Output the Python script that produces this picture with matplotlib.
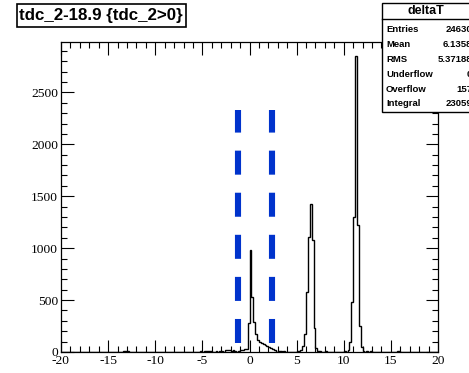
import numpy as np
import matplotlib
matplotlib.use("Agg")
import matplotlib.pyplot as plt
from matplotlib.patches import Rectangle
from matplotlib.ticker import MultipleLocator

# histogram deltaT, 0.2 wide bins from -20 to 20, only non-empty bins listed
peak1_lo = -0.4
peak1 = [30, 280, 980, 530, 290, 170, 120, 100, 90, 80, 70, 60, 50, 35, 25, 15]
peak2_lo = 5.4
peak2 = [20, 60, 170, 580, 1105, 1425, 1080, 230, 40, 10]
peak3_lo = 10.4
peak3 = [20, 100, 480, 1300, 2846, 1226, 250, 50, 10]
noise_lo = [-15.2, -13.8, -13.4, -13.2, -13.0, -12.6, -12.2, -10.4, -8.0, -6.4,
            -5.2, -4.8, -4.6, -4.4, -4.2, -3.6, -3.2, -3.0, -2.6, -2.4, -2.2,
            -2.0, -1.8, -1.6, -1.2, -1.0, -0.8, -0.6, 3.0, 3.2, 3.6, 4.2, 5.0,
            5.2, 7.4, 8.0, 9.4, 10.0, 12.4, 12.8, 14.0, 15.6, 15.8, 17.0]
noise = [3, 4, 8, 10, 6, 4, 3, 3, 3, 4, 6, 10, 8, 12, 6, 8, 12, 10, 15, 20, 18,
         12, 15, 10, 12, 15, 20, 25, 10, 6, 5, 4, 5, 8, 8, 5, 4, 6, 8, 5, 4, 10, 8, 3]

cut_x = [-1.25, 2.35]
cut_y = [90, 2330]

title = "tdc_2-18.9 {tdc_2>0}"
stats_name = "deltaT"
stats_labels = ["Entries", "Mean", "RMS", "Underflow", "Overflow", "Integral"]
stats_values = ["24630", "6.1358", "5.37188", "0", "157", "23059"]

bw = 0.2
edges = np.linspace(-20, 20, 201)
counts = np.zeros(200)


def put(lo, vals):
    i0 = int(round((lo + 20) / bw))
    for k, v in enumerate(vals):
        counts[i0 + k] += v


put(peak1_lo, peak1)
put(peak2_lo, peak2)
put(peak3_lo, peak3)
for lo, v in zip(noise_lo, noise):
    put(lo, [v])

plt.rcParams['lines.scale_dashes'] = False
plt.rcParams['axes.unicode_minus'] = False
fig = plt.figure(figsize=(4.69, 3.73), dpi=100)
ax = fig.add_axes([61 / 469, 21 / 373, 377 / 469, 310 / 373])

ax.stairs(counts, edges, color='black', lw=1.0)
for x in cut_x:
    ax.plot([x, x], cut_y, color='#0033cc', lw=4.4, dashes=(17.3, 13.0),
            solid_capstyle='butt', dash_capstyle='butt')

ax.set_xlim(-20, 20)
ax.set_ylim(0, 2985)
ax.xaxis.set_major_locator(MultipleLocator(5))
ax.xaxis.set_minor_locator(MultipleLocator(1))
ax.yaxis.set_major_locator(MultipleLocator(500))
ax.yaxis.set_minor_locator(MultipleLocator(100))
ax.tick_params(which='both', direction='in', top=True, right=True, width=0.8,
               labelsize=9.7, pad=2)
ax.tick_params(which='major', length=9)
ax.tick_params(which='minor', length=4.5)
for lab in ax.get_xticklabels() + ax.get_yticklabels():
    lab.set_family('Liberation Serif')
for s in ax.spines.values():
    s.set_linewidth(0.9)

# title box
fig.add_artist(Rectangle((17 / 469, 1 - 27 / 373), 169 / 469, 23 / 373,
                         transform=fig.transFigure, fill=False, lw=1.2, ec='black'))
fig.text(101 / 469, 1 - 15.5 / 373, title, ha='center', va='center',
         family='Liberation Sans', weight='bold', fontsize=12.2)

# stats box
fig.add_artist(Rectangle((382 / 469, 1 - 112 / 373), 100 / 469, 109 / 373,
                         transform=fig.transFigure, fc='white', ec='black', lw=1.0,
                         zorder=5))
fig.add_artist(plt.Line2D([382 / 469, 1.05], [1 - 19 / 373, 1 - 19 / 373],
                          transform=fig.transFigure, color='black', lw=1.0, zorder=6))
fig.text(426 / 469, 1 - 10.5 / 373, stats_name, ha='center', va='center',
         family='Liberation Sans', weight='bold', fontsize=9, zorder=7)
for i, (lab, val) in enumerate(zip(stats_labels, stats_values)):
    y = 1 - (30 + 14.8 * i) / 373
    fig.text(386 / 469, y, lab, ha='left', va='center', family='Liberation Sans',
             weight='bold', fontsize=6.8, zorder=7)
    fig.text(472 / 469, y, val, ha='right', va='center', family='Liberation Sans',
             weight='bold', fontsize=6.8, zorder=7)

fig.savefig("out.png", dpi=100)
